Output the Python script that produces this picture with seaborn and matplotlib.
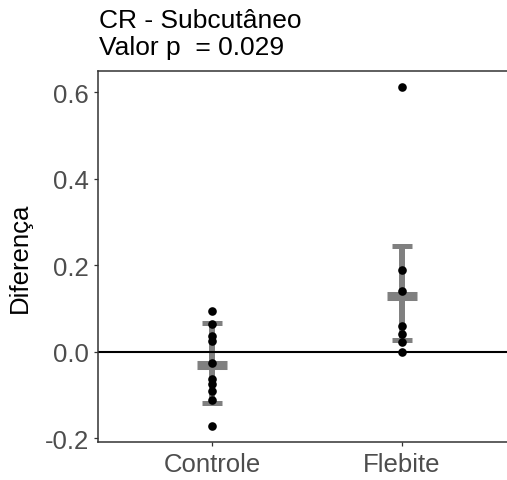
import numpy as np
import pandas as pd
import matplotlib
matplotlib.use("Agg")
import matplotlib.pyplot as plt
import seaborn as sns

# ---- data ----
categories = ["Controle", "Flebite"]
controle_vals = [0.093, 0.065, 0.036, 0.024, -0.027, -0.064, -0.075, -0.090, -0.112, -0.171]
flebite_vals = [0.611, 0.188, 0.141, 0.060, 0.041, 0.022, -0.001]
mean_vals = [-0.030, 0.129]
lower_vals = [-0.119, 0.027]
upper_vals = [0.067, 0.245]
yticks = [-0.2, 0.0, 0.2, 0.4, 0.6]
title_lines = ["CR - Subcutâneo", "Valor p  = 0.029"]
ylabel = "Diferença"

df = pd.DataFrame({
    "grupo": ["Controle"] * len(controle_vals) + ["Flebite"] * len(flebite_vals),
    "valor": controle_vals + flebite_vals,
})

sns.set_style("white")
plt.rcParams["font.family"] = ["Liberation Sans", "DejaVu Sans"]

W, H = 507, 481
fig = plt.figure(figsize=(W / 100, H / 100), dpi=100)
ax = fig.add_axes([98 / W, 38 / H, 418 / W, 371 / H])

xpos = np.arange(len(categories))
gray = "#808080"
# vertical bars
ax.vlines(xpos, lower_vals, upper_vals, color=gray, lw=4.3, zorder=1)
# caps
for x, lo, hi in zip(xpos, lower_vals, upper_vals):
    ax.hlines([lo, hi], x - 0.053, x + 0.053, color=gray, lw=3.6, zorder=1)
# mean crossbar
ax.hlines(mean_vals, xpos - 0.079, xpos + 0.079, color=gray, lw=6.5, zorder=1)

ax.axhline(0, color="black", lw=1.5, zorder=2)

sns.stripplot(data=df, x="grupo", y="valor", order=categories, jitter=False,
              color="black", size=6.2, linewidth=0, ax=ax, zorder=3)

ax.set_xlim(-0.6, 1.6)
ax.set_ylim(-0.2088, 0.649)
ax.set_yticks(yticks)
ax.set_yticklabels([f"{v:.1f}" for v in yticks])
ax.set_xticks(xpos)
ax.set_xticklabels(categories)
ax.set_xlabel("")
ax.set_ylabel(ylabel, fontsize=18.5, color="black")
ax.yaxis.set_label_coords(-0.157, 0.5)

for s in ax.spines.values():
    s.set_visible(True)
    s.set_color("#333333")
    s.set_linewidth(1.1)

ax.tick_params(axis="both", which="major", length=3, width=0.9, color="#333333",
               labelsize=18.5, labelcolor="#4D4D4D", left=True, bottom=True)
ax.tick_params(axis="y", pad=3.4)
ax.tick_params(axis="x", pad=4)

fig.text(99 / W, 1 - 28 / H, title_lines[0], fontsize=19, color="black", va="baseline", ha="left")
fig.text(99 / W, 1 - 55 / H, title_lines[1], fontsize=19, color="black", va="baseline", ha="left")

fig.savefig("out.png", dpi=100)
